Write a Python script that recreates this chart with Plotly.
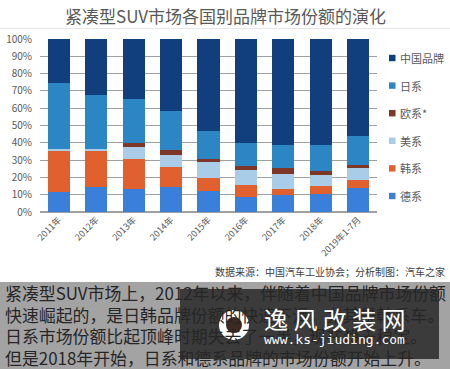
import plotly.graph_objects as go

categories = ["2011年", "2012年", "2013年", "2014年", "2015年", "2016年", "2017年", "2018年", "2019年1-7月"]
series_names = ["德系", "韩系", "美系", "欧系*", "日系", "中国品牌"]
de = [11.5, 14.4, 13.3, 14.4, 11.9, 8.5, 9.8, 10.4, 14.0]
kr = [24.0, 21.2, 17.1, 11.6, 7.5, 6.9, 3.5, 4.6, 4.7]
us = [1.0, 1.0, 6.9, 7.1, 9.4, 9.0, 8.6, 6.3, 6.7]
eu = [0.0, 0.0, 2.5, 2.5, 1.8, 2.3, 3.3, 2.5, 1.5]
jp = [38.0, 31.0, 25.6, 22.7, 16.5, 13.1, 13.6, 14.7, 16.8]
cn = [25.5, 32.4, 34.6, 41.7, 52.9, 60.2, 61.2, 61.5, 56.3]
series_values = [de, kr, us, eu, jp, cn]
colors = ["#3a80db", "#e0602e", "#a9cde9", "#7e3626", "#2d86c4", "#113f7e"]
y_ticks = [0, 10, 20, 30, 40, 50, 60, 70, 80, 90, 100]
y_labels = [f"{v}%" for v in y_ticks]

title = "紧凑型SUV市场各国别品牌市场份额的演化"
source = "数据来源：中国汽车工业协会；分析制图：汽车之家"
body_lines = [
    "紧凑型SUV市场上，2012年以来，伴随着中国品牌市场份额",
    "快速崛起的，是日韩品牌份额的快速下滑，尤其是韩系车。",
    "日系市场份额比起顶峰时期失去了一半，现在趋于稳定。",
    "但是2018年开始，日系和德系品牌的市场份额开始上升。",
]

FONT = "Noto Sans CJK SC, Noto Sans, sans-serif"
W, H = 450, 369
ml, mr, mt, mb = 40, 73, 39, 157
PW, PH = W - ml - mr, H - mt - mb

fig = go.Figure()
for name, vals, col in zip(series_names, series_values, colors):
    fig.add_trace(go.Bar(x=categories, y=vals, name=name, marker=dict(color=col, line=dict(width=0)),
                         showlegend=False))

fig.update_layout(
    width=W, height=H, barmode="stack", bargap=0.41,
    margin=dict(l=ml, r=mr, t=mt, b=mb, pad=0),
    paper_bgcolor="white", plot_bgcolor="white",
    font=dict(family=FONT, color="#595959"),
    xaxis=dict(tickangle=-45, tickfont=dict(size=9, color="#595959"), showgrid=False,
               showline=False, ticks="", automargin=False),
    yaxis=dict(range=[0, 100], tickvals=y_ticks, ticktext=y_labels, tickfont=dict(size=10, color="#595959"),
               showgrid=True, gridcolor="#a0a0a0", gridwidth=1, zeroline=True, zerolinecolor="#a0a0a0",
               ticks="outside", ticklen=5, tickcolor="white", automargin=False, layer="below traces"),
)

def px(x):
    return (x - ml) / PW

def py(y):
    return (H - mb - y) / PH

annotations = []
shapes = []
annotations.append(dict(text=title, x=px(225), y=py(16), xref="paper", yref="paper", showarrow=False,
                        xanchor="center", yanchor="middle", font=dict(size=17, color="#595959", family=FONT)))
shapes.append(dict(type="line", xref="paper", yref="paper", x0=px(0), x1=px(450), y0=py(28.5), y1=py(28.5),
                   line=dict(color="#e6e6e6", width=1)))

# legend (top to bottom: reversed stack order)
leg_y0, leg_dy = 58, 27.6
for i, (name, col) in enumerate(zip(series_names[::-1], colors[::-1])):
    yc = leg_y0 + i * leg_dy
    shapes.append(dict(type="rect", xref="paper", yref="paper", x0=px(389), x1=px(395.5),
                       y0=py(yc + 3.2), y1=py(yc - 3.2), fillcolor=col, line=dict(width=0)))
    annotations.append(dict(text=name, x=px(398), y=py(yc), xref="paper", yref="paper", showarrow=False,
                            xanchor="left", yanchor="middle", font=dict(size=11, color="#595959", family=FONT)))

annotations.append(dict(text=source, x=px(447), y=py(271), xref="paper", yref="paper", showarrow=False,
                        xanchor="right", yanchor="middle", font=dict(size=10, color="#404040", family=FONT)))

# grey text panel
shapes.append(dict(type="rect", xref="paper", yref="paper", x0=px(0), x1=px(450), y0=py(369), y1=py(282),
                   fillcolor="#a3a3a3", line=dict(width=0), layer="above"))
for i, line in enumerate(body_lines):
    annotations.append(dict(text=line, x=px(3), y=py(292.5 + i * 21.5), xref="paper", yref="paper", showarrow=False,
                            xanchor="left", yanchor="middle", font=dict(size=16.9, color="#262626", family=FONT)))

# watermark
shapes.append(dict(type="rect", xref="paper", yref="paper", x0=px(180), x1=px(439), y0=py(359), y1=py(289),
                   fillcolor="rgba(20,20,20,0.72)", line=dict(width=0), layer="above"))
shapes.append(dict(type="circle", xref="paper", yref="paper", x0=px(219), x1=px(249), y0=py(340), y1=py(310),
                   fillcolor="white", line=dict(width=0), layer="above"))
shapes.append(dict(type="circle", xref="paper", yref="paper", x0=px(226), x1=px(242), y0=py(333), y1=py(317),
                   fillcolor="#3a2a20", line=dict(width=0), layer="above"))
annotations.append(dict(text="逸 风 改 装 网", x=px(335), y=py(318), xref="paper", yref="paper", showarrow=False,
                        xanchor="center", yanchor="middle", font=dict(size=24, color="white", family=FONT)))
annotations.append(dict(text="www.ks-jiuding.com", x=px(334), y=py(339), xref="paper", yref="paper",
                        showarrow=False, xanchor="center", yanchor="middle",
                        font=dict(size=13, color="white", family="DejaVu Sans Mono, monospace")))

fig.update_layout(annotations=annotations, shapes=shapes)
fig.write_html("out.html", config={"displayModeBar": False})

with open("out.html", "r", encoding="utf-8") as f:
    html = f.read()
html = html.replace("<body>", '<body style="margin:0;padding:0;overflow:hidden">', 1)
with open("out.html", "w", encoding="utf-8") as f:
    f.write(html)
